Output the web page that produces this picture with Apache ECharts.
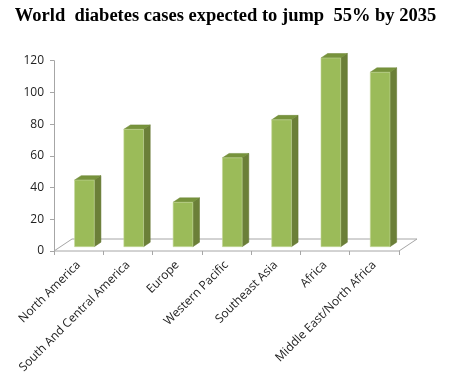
<!DOCTYPE html>
<html>
<head>
<meta charset="utf-8">
<script src="https://cdn.jsdelivr.net/npm/echarts@6/dist/echarts.min.js"></script>
<style>html,body{margin:0;padding:0;background:#fff;}#c{width:451px;height:387px;}</style>
</head>
<body>
<div id="c"></div>
<script>
var categories = ["North America", "South And Central America", "Europe", "Western Pacific", "Southeast Asia", "Africa", "Middle East/North Africa"];
var values = [42, 74, 28, 56, 80, 119, 110];
var yTicks = [0, 20, 40, 60, 80, 100, 120];
var titleText = "World  diabetes cases expected to jump  55% by 2035";

var chart = echarts.init(document.getElementById('c'));
var D = [18, -12];       // floor depth offset
var F1 = 0.36, F2 = 0.73; // bar front/back depth fractions
var barFrac = 0.4;

function barItem(params, api) {
  var idx = api.value(0), v = api.value(1);
  var base = api.coord([idx, 0]);
  var top = api.coord([idx, v]);
  var bw = api.size([1, 0])[0];
  var w = bw * barFrac;
  var fx = D[0] * F1 - 0.7, fy = D[1] * F1;
  var bx = D[0] * F2 - 0.7, by = D[1] * F2;
  var x0 = base[0] - w / 2, x1 = base[0] + w / 2;
  var yb = base[1], yt = top[1];
  var front = [[x0 + fx, yt + fy], [x1 + fx, yt + fy], [x1 + fx, yb + fy], [x0 + fx, yb + fy]];
  var side = [[x1 + fx, yt + fy], [x1 + bx, yt + by], [x1 + bx, yb + by], [x1 + fx, yb + fy]];
  var topFace = [[x0 + fx, yt + fy], [x0 + bx, yt + by], [x1 + bx, yt + by], [x1 + fx, yt + fy]];
  return {
    type: 'group',
    children: [
      {type: 'polygon', shape: {points: side}, style: {fill: '#6b7f38', stroke: '#62752f', lineWidth: 0.5}},
      {type: 'polygon', shape: {points: topFace}, style: {fill: '#77933c', stroke: '#6d8735', lineWidth: 0.5}},
      {type: 'polygon', shape: {points: front}, style: {fill: '#9bbb59', stroke: '#c4d79b', lineWidth: 0.6}}
    ]
  };
}

function floorItem(params, api) {
  var n = categories.length;
  var bw = api.size([1, 0])[0];
  var a = api.coord([0, 0]);
  var b = api.coord([n - 1, 0]);
  var l = a[0] - bw / 2, r = b[0] + bw / 2, y = a[1];
  return {
    type: 'polygon',
    shape: {points: [[l, y], [r, y], [r + D[0], y + D[1]], [l + D[0], y + D[1]]]},
    style: {fill: 'none', stroke: '#a6a6a6', lineWidth: 1}
  };
}

chart.setOption({
  animation: false,
  backgroundColor: '#fff',
  title: {
    text: titleText, left: 'center', top: 2,
    textStyle: {fontFamily: 'Liberation Serif', fontWeight: 'bold', fontSize: 18.5, color: '#000'}
  },
  grid: {left: 54, right: 52, top: 60.7, bottom: 136},
  xAxis: {
    type: 'category', data: categories, boundaryGap: true,
    axisLine: {show: false},
    axisTick: {show: true, length: 4, lineStyle: {color: '#a6a6a6'}},
    axisLabel: {rotate: 45, interval: 0, margin: 12, fontSize: 12, fontFamily: 'Open Sans', color: '#222'}
  },
  yAxis: {
    type: 'value', min: yTicks[0], max: yTicks[yTicks.length - 1], interval: yTicks[1] - yTicks[0],
    axisLine: {show: true, lineStyle: {color: '#a6a6a6'}},
    axisTick: {show: true, length: 4, lineStyle: {color: '#a6a6a6'}},
    splitLine: {show: false},
    axisLabel: {margin: 10, fontSize: 12, fontFamily: 'Open Sans', color: '#222'}
  },
  series: [
    {type: 'custom', renderItem: floorItem, data: [[0, 0]], z: 1, silent: true},
    {type: 'custom', renderItem: barItem, data: values.map(function (v, i) { return [i, v]; }), z: 2, encode: {x: 0, y: 1}}
  ]
});
</script>
</body>
</html>
